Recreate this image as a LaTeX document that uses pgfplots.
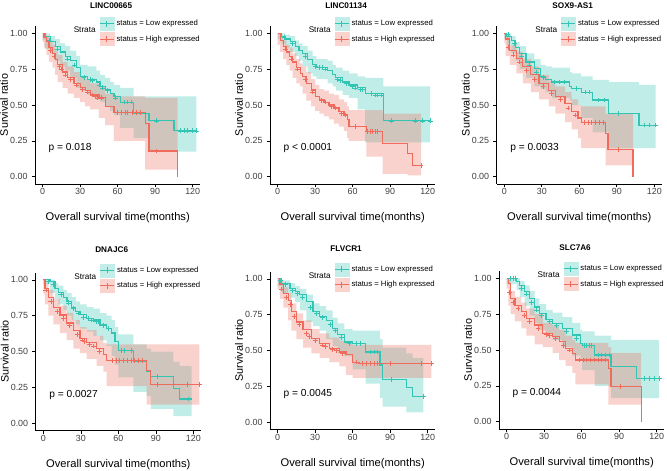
\documentclass[border=0pt]{standalone}
\usepackage{fontspec}
\setmainfont{Liberation Sans}
\usepackage{pgfplots}
\usepackage{pgfplotstable}
\pgfplotsset{compat=1.18}

\definecolor{lowc}{HTML}{33C4B3}
\definecolor{highc}{HTML}{F06B5B}

% ---- LINC00665 ----
\pgfplotstableread{
t s lo hi
0 1.00 1.00 1.00
2 0.98 0.95 1.00
6 0.94 0.89 0.98
10 0.91 0.86 0.96
14 0.87 0.81 0.93
18 0.84 0.77 0.91
22 0.81 0.74 0.88
27 0.76 0.69 0.84
30 0.70 0.62 0.78
36 0.68 0.60 0.77
43 0.66 0.57 0.74
46 0.63 0.54 0.71
50 0.61 0.52 0.69
54 0.58 0.49 0.66
57 0.56 0.46 0.64
62 0.52 0.43 0.62
72.7 0.44 0.34 0.56
85 0.39 0.27 0.56
105 0.32 0.175 0.56
123 0.32 0.175 0.56
}\lowA
\pgfplotstableread{
t s lo hi
0 1.00 1.00 1.00
1 0.97 0.94 1.00
3 0.94 0.90 0.98
5 0.90 0.85 0.95
8 0.86 0.80 0.92
10 0.82 0.76 0.88
12 0.78 0.71 0.85
16 0.73 0.66 0.80
20 0.69 0.62 0.77
25 0.65 0.58 0.73
30 0.62 0.55 0.70
34 0.60 0.52 0.68
38 0.57 0.49 0.65
45 0.55 0.47 0.63
50 0.49 0.41 0.58
57 0.45 0.36 0.56
82 0.37 0.25 0.55
85 0.18 0.05 0.55
108 0.00 0.05 0.55
}\highA
\pgfplotstableread{
t s
5 0.95
12 0.89
20 0.82
25 0.78
33 0.69
38 0.68
40 0.67
45 0.64
48 0.62
52 0.60
58 0.55
65 0.52
68 0.52
71 0.52
91 0.39
110 0.32
113 0.32
116 0.32
120 0.32
123 0.32
}\clowA
\pgfplotstableread{
t s
6 0.88
9 0.84
13 0.77
15 0.75
18 0.71
22 0.68
27 0.64
32 0.61
36 0.59
40 0.57
42 0.56
44 0.55
47 0.55
60 0.45
63 0.45
66 0.45
68 0.45
72 0.45
75 0.45
78 0.45
91 0.18
}\chighA

% ---- LINC01134 ----
\pgfplotstableread{
t s lo hi
0 1.00 1.00 1.00
3 0.98 0.96 1.00
6 0.96 0.93 0.99
10 0.94 0.90 0.98
14 0.91 0.87 0.95
17 0.88 0.84 0.93
20 0.86 0.81 0.91
24 0.82 0.77 0.88
28 0.78 0.72 0.84
31 0.76 0.70 0.82
40 0.74 0.68 0.81
44 0.71 0.65 0.78
46.5 0.69 0.63 0.76
52 0.66 0.60 0.74
57 0.64 0.57 0.72
64 0.62 0.55 0.70
70 0.58 0.47 0.69
84.5 0.39 0.24 0.63
122 0.39 0.24 0.63
}\lowB
\pgfplotstableread{
t s lo hi
0 1.00 1.00 1.00
2 0.95 0.92 0.98
4.4 0.91 0.87 0.95
7 0.87 0.82 0.92
9.6 0.84 0.78 0.90
12 0.80 0.74 0.86
15 0.76 0.69 0.82
18 0.72 0.65 0.79
20 0.70 0.63 0.77
23 0.65 0.58 0.73
26.8 0.605 0.53 0.68
30 0.56 0.49 0.64
33.3 0.535 0.46 0.61
37 0.52 0.44 0.60
41 0.50 0.42 0.58
45 0.48 0.40 0.57
49 0.455 0.37 0.54
53 0.43 0.35 0.52
55.6 0.40 0.32 0.49
57 0.35 0.27 0.465
71 0.315 0.25 0.465
84 0.23 0.14 0.44
104 0.16 0.02 0.44
108 0.08 0.01 0.44
114.7 0.08 0.01 0.44
}\highB
\pgfplotstableread{
t s
5 0.97
12 0.93
22 0.84
30 0.77
33 0.76
36 0.76
38 0.75
48 0.68
50 0.67
55 0.65
60 0.63
62 0.62
66 0.61
68 0.61
75 0.58
78 0.57
80 0.57
83 0.57
91 0.39
110 0.39
116 0.39
122 0.39
}\clowB
\pgfplotstableread{
t s
6 0.89
11 0.82
16 0.75
22 0.68
28 0.59
35 0.53
38 0.52
43 0.49
46 0.48
51 0.44
54 0.43
62 0.35
72 0.315
74 0.315
76 0.315
78 0.315
80 0.315
114.7 0.08
}\chighB

% ---- SOX9-AS1 ----
\pgfplotstableread{
t s lo hi
0 1.00 1.00 1.00
2 0.98 0.96 1.00
5.7 0.95 0.92 0.98
9 0.90 0.86 0.94
12.2 0.86 0.81 0.91
17.4 0.80 0.75 0.86
24 0.755 0.69 0.82
29 0.70 0.63 0.78
33 0.68 0.61 0.77
38 0.66 0.59 0.76
52.5 0.63 0.55 0.73
54 0.615 0.53 0.72
61.5 0.59 0.50 0.70
70.6 0.535 0.41 0.675
83.6 0.44 0.31 0.66
107.8 0.36 0.20 0.64
121 0.36 0.20 0.64
}\lowC
\pgfplotstableread{
t s lo hi
0 1.00 1.00 1.00
1 0.96 0.93 0.99
4.4 0.88 0.84 0.92
9.6 0.825 0.78 0.87
14.8 0.77 0.72 0.82
21.3 0.71 0.65 0.77
27.8 0.65 0.59 0.71
35.6 0.60 0.54 0.67
40.8 0.56 0.49 0.63
48.6 0.51 0.44 0.59
53.8 0.455 0.38 0.54
59 0.41 0.33 0.50
61.5 0.38 0.27 0.49
81 0.30 0.20 0.44
83 0.19 0.08 0.44
103 0.00 0.08 0.44
}\highC
\pgfplotstableread{
t s
3 0.99
8 0.93
14 0.84
20 0.78
26 0.73
31 0.69
40 0.66
44 0.66
48 0.66
58 0.615
65 0.59
68 0.59
75 0.535
80 0.535
91 0.44
112 0.36
116 0.36
121 0.36
}\clowC
\pgfplotstableread{
t s
3 0.90
7 0.85
12 0.80
18 0.74
24 0.68
31 0.63
38 0.58
45 0.54
51 0.48
57 0.43
64 0.38
67 0.38
70 0.38
73 0.38
76 0.38
79 0.38
91 0.19
}\chighC

% ---- DNAJC6 ----
\pgfplotstableread{
t s lo hi
0 1.00 1.00 1.00
5.3 0.99 0.97 1.00
9.3 0.94 0.91 0.98
12 0.91 0.87 0.96
16 0.88 0.83 0.93
19 0.85 0.79 0.91
22.7 0.81 0.75 0.88
26 0.78 0.72 0.85
29.3 0.76 0.69 0.83
34.7 0.73 0.66 0.81
40 0.72 0.64 0.80
45.3 0.686 0.61 0.77
50.7 0.66 0.58 0.75
54.7 0.63 0.54 0.72
57.3 0.57 0.47 0.67
60 0.51 0.41 0.62
72 0.435 0.32 0.55
82.7 0.36 0.22 0.52
86 0.325 0.19 0.50
104 0.245 0.10 0.43
109 0.17 0.05 0.40
118.7 0.17 0.05 0.40
}\lowD
\pgfplotstableread{
t s lo hi
0 1.00 1.00 1.00
1.3 0.94 0.90 0.98
4 0.88 0.83 0.93
8 0.81 0.75 0.87
13.3 0.755 0.69 0.82
18.7 0.70 0.63 0.77
24 0.65 0.58 0.72
29.3 0.59 0.52 0.67
34.7 0.565 0.49 0.65
42.7 0.523 0.45 0.61
48 0.477 0.40 0.56
50.7 0.44 0.36 0.55
82.7 0.37 0.26 0.55
86 0.27 0.13 0.55
124.8 0.27 0.13 0.55
}\highD
\pgfplotstableread{
t s
4 0.99
8 0.97
14 0.90
20 0.84
24 0.80
28 0.77
32 0.74
36 0.73
38 0.72
42 0.71
44 0.71
48 0.68
52 0.66
62 0.51
65 0.51
70 0.51
91 0.325
116 0.17
}\clowD
\pgfplotstableread{
t s
2 0.93
6 0.85
11 0.78
16 0.73
21 0.68
27 0.62
31 0.58
33 0.57
37 0.55
40 0.54
45 0.50
55 0.44
58 0.44
61 0.44
64 0.44
67 0.44
70 0.44
73 0.44
76 0.44
79 0.44
91 0.27
115 0.27
124.8 0.27
}\chighD

% ---- FLVCR1 ----
\pgfplotstableread{
t s lo hi
0 1.00 1.00 1.00
3.2 0.97 0.95 0.99
9.8 0.935 0.90 0.97
14 0.91 0.87 0.95
17.7 0.89 0.84 0.93
23 0.84 0.78 0.89
28.2 0.77 0.70 0.83
33.5 0.74 0.67 0.81
38.8 0.71 0.64 0.78
44 0.655 0.58 0.73
48 0.61 0.53 0.69
53.3 0.56 0.48 0.65
60 0.55 0.46 0.64
70.4 0.49 0.37 0.64
81.8 0.40 0.27 0.58
84 0.30 0.17 0.52
103 0.24 0.11 0.48
108 0.18 0.07 0.45
116.6 0.18 0.07 0.45
}\lowE
\pgfplotstableread{
t s lo hi
0 1.00 1.00 1.00
1.8 0.96 0.93 0.99
4.5 0.90 0.86 0.94
8.4 0.85 0.80 0.90
11 0.77 0.71 0.83
15 0.70 0.64 0.76
20.3 0.645 0.58 0.71
27 0.585 0.52 0.65
33.5 0.55 0.48 0.62
41.4 0.516 0.45 0.59
49.3 0.49 0.42 0.57
54.6 0.47 0.39 0.56
60 0.42 0.33 0.54
65 0.41 0.31 0.54
123 0.41 0.31 0.54
}\highE
\pgfplotstableread{
t s
2 0.99
6 0.96
12 0.92
16 0.90
20 0.87
26 0.80
31 0.76
36 0.73
42 0.68
46 0.64
51 0.59
57 0.55
63 0.55
66 0.55
74 0.49
77 0.49
80 0.49
91 0.30
116.6 0.18
}\clowE
\pgfplotstableread{
t s
3 0.93
7 0.87
10 0.82
13 0.74
17 0.68
23 0.62
25 0.60
30 0.57
36 0.54
38 0.53
44 0.51
47 0.50
52 0.48
63 0.42
68 0.41
71 0.41
74 0.41
77 0.41
80 0.41
90 0.41
115 0.41
123 0.41
}\chighE

% ---- SLC7A6 ----
\pgfplotstableread{
t s lo hi
0 1.00 1.00 1.00
8 0.98 0.96 1.00
10.5 0.95 0.92 0.98
14.4 0.91 0.87 0.95
18.4 0.86 0.81 0.91
22.3 0.80 0.74 0.86
26.2 0.756 0.69 0.82
31.5 0.71 0.64 0.78
36.7 0.686 0.61 0.76
44.6 0.65 0.57 0.73
52.5 0.605 0.52 0.69
59 0.546 0.46 0.64
60.4 0.53 0.44 0.63
70.3 0.465 0.36 0.60
83.5 0.384 0.25 0.57
103.7 0.30 0.165 0.57
122 0.30 0.165 0.57
}\lowF
\pgfplotstableread{
t s lo hi
0 1.00 1.00 1.00
1.3 0.965 0.93 0.99
3.1 0.86 0.81 0.91
6.6 0.81 0.75 0.87
11.8 0.767 0.70 0.83
15.7 0.72 0.65 0.79
22.3 0.674 0.60 0.75
28.9 0.616 0.54 0.69
36.7 0.593 0.52 0.67
42 0.558 0.48 0.64
47.2 0.51 0.43 0.60
52.5 0.477 0.39 0.57
55 0.43 0.34 0.55
81.4 0.37 0.26 0.52
83.5 0.244 0.12 0.48
107.6 0.00 0.12 0.48
}\highF
\pgfplotstableread{
t s
3 1.00
5 1.00
7 1.00
12 0.93
16 0.89
20 0.83
24 0.78
28 0.74
34 0.70
40 0.67
48 0.63
56 0.58
62 0.53
64 0.53
66 0.53
68 0.53
73 0.465
76 0.465
79 0.465
82 0.465
110 0.30
114 0.30
118 0.30
122 0.30
}\clowF
\pgfplotstableread{
t s
2 0.90
5 0.83
9 0.79
14 0.74
18 0.70
25 0.65
32 0.61
34 0.60
39 0.58
45 0.53
50 0.50
58 0.43
61 0.43
64 0.43
67 0.43
70 0.43
73 0.43
76 0.43
79 0.43
91 0.244
}\chighF

\pgfplotsset{
  kmkey/.style 2 args={legend image code/.code={
      \fill[#2] (0pt,-5.5pt) rectangle (11.9pt,5.5pt);
      \draw[#1, line width=1pt] (0pt,0pt) -- (11.9pt,0pt);
      \draw[#1, line width=0.6pt] (5.95pt,-2.5pt) -- (5.95pt,2.5pt);
  }},
  kmgeo/.style={
    scale only axis, width=4.95cm, height=4.734cm,
    anchor=south west,
    xmin=-6, xmax=126, ymin=-0.05, ymax=1.05,
  },
  km/.style={
    kmgeo,
    axis lines*=left, axis line style={-, black, line width=0.6pt},
    tick align=outside, major tick length=3pt,
    tick style={black, line width=0.5pt},
    xtick={0,30,60,90,120}, ytick={0,0.25,0.5,0.75,1},
    yticklabel style={/pgf/number format/.cd, fixed, fixed zerofill, precision=2},
    xticklabel style={yshift=2.5pt},
    /pgf/number format/assume math mode=true,
    tick label style={font=\fontsize{7.6}{9}\selectfont, text=black!75},
    xlabel style={font=\fontsize{9.5}{10}\selectfont, yshift=-8pt},
    ylabel style={font=\fontsize{9.2}{10}\selectfont},
    xlabel={Overall survival time(months)},
    ylabel={Survival ratio},
    ylabel shift=-5pt,
    title style={at={(0.46,1)}, anchor=base, font=\bfseries\fontsize{7}{8}\selectfont},
    legend style={draw=none, fill=none, at={(0.387,1.059)}, anchor=north west,
      inner sep=0pt, row sep=1.75pt, column sep=1pt,
      font=\fontsize{6.6}{7}\selectfont, nodes={inner sep=0.8pt}},
    legend cell align=left,
  },
  % confidence band: step intervals stacked from lo up to hi
  band/.style={ybar interval, stack plots=y, draw=none, forget plot},
}

% one band per hidden axis, so that each stack starts from zero
\newcommand{\kmband}[4]{%
\begin{axis}[kmgeo, hide axis, at={({#1*0.03cm},{(470-#2)*0.03cm})}]
  \addplot[band, fill=none] table[x=t,y=lo]{#3};
  \addplot[band, fill=#4, fill opacity=0.3] table[x=t,y expr=\thisrow{hi}-\thisrow{lo}]{#3};
\end{axis}}

\newcommand{\km}[9]{%
\kmband{#1}{#2}{#5}{lowc}
\kmband{#1}{#2}{#6}{highc}
\begin{axis}[km, at={({#1*0.03cm},{(470-#2)*0.03cm})}, title={#3}, title style={yshift=#9}]
  \addplot[const plot, lowc, line width=1pt, forget plot] table[x=t,y=s]{#5};
  \addplot[const plot, highc, line width=1pt, forget plot] table[x=t,y=s]{#6};
  \addplot[only marks, mark=+, mark size=2pt, lowc, line width=0.5pt, forget plot] table[x=t,y=s]{#7};
  \addplot[only marks, mark=+, mark size=2pt, highc, line width=0.5pt, forget plot] table[x=t,y=s]{#8};
  \addlegendimage{kmkey={lowc}{lowc!30}}
  \addlegendentry{status = Low expressed}
  \addlegendimage{kmkey={highc}{highc!30}}
  \addlegendentry{status = High expressed}
  \node[font=\fontsize{7}{8}\selectfont, anchor=center] at (rel axis cs:0.30,0.975) {Strata};
  \node[font=\fontsize{8.7}{10}\selectfont, anchor=west] at (axis cs:1.5,0.2) {#4};
\end{axis}}

\begin{document}
\begin{tikzpicture}
\path[use as bounding box] (0,0) rectangle (20.01cm,14.1cm);
\km{35.2}{183.9}{LINC00665}{p = 0.018}{\lowA}{\highA}{\clowA}{\chighA}{8.9pt}
\km{270.2}{183.9}{LINC01134}{p < 0.0001}{\lowB}{\highB}{\clowB}{\chighB}{8.9pt}
\km{496.8}{183.9}{SOX9-AS1}{p = 0.0033}{\lowC}{\highC}{\clowC}{\chighC}{8.9pt}
\km{35.8}{430.5}{DNAJC6}{p = 0.0027}{\lowD}{\highD}{\clowD}{\chighD}{11.2pt}
\km{270.2}{429.5}{FLVCR1}{p = 0.0045}{\lowE}{\highE}{\clowE}{\chighE}{11.2pt}
\km{499.2}{428.9}{SLC7A6}{p = 0.0044}{\lowF}{\highF}{\clowF}{\chighF}{11.2pt}
\end{tikzpicture}
\end{document}
